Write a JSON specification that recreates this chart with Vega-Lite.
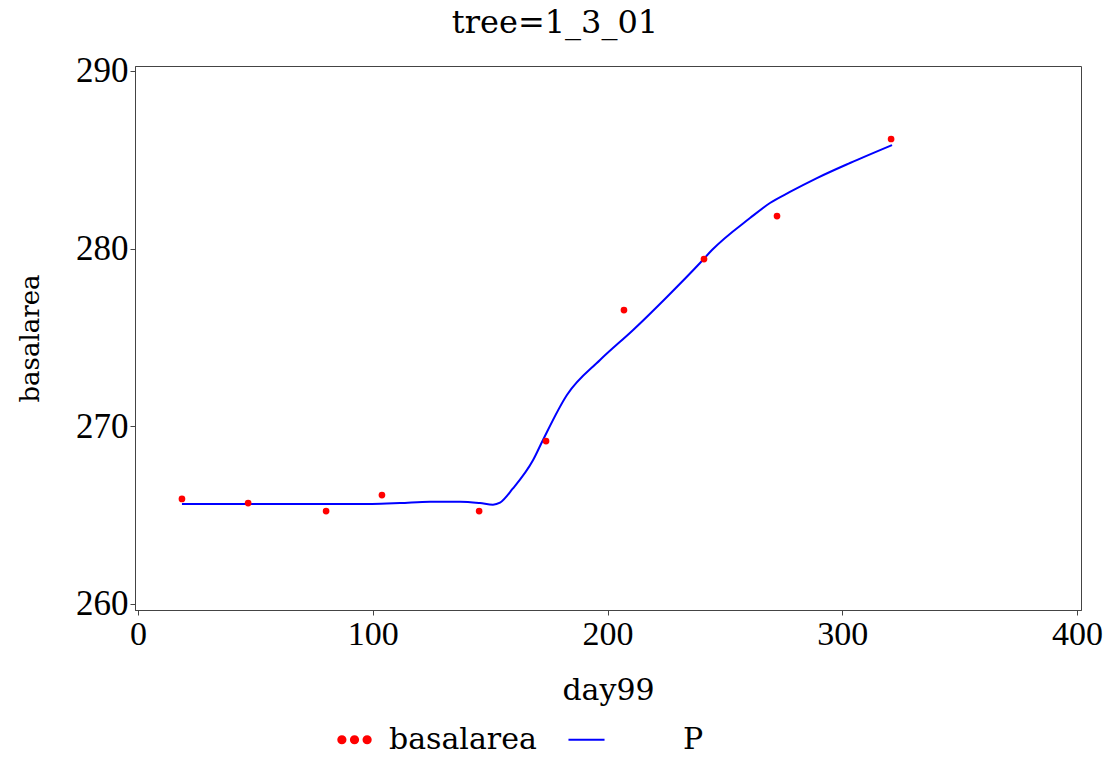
{
  "$schema": "https://vega.github.io/schema/vega-lite/v6.json",
  "autosize": {"type": "none"},
  "width": 946,
  "height": 544,
  "padding": {"left": 135, "top": 66, "right": 29, "bottom": 147},
  "background": "white",
  "title": {"text": "tree=1_3_01", "fontSize": 32, "font": "DejaVu Serif", "fontWeight": "normal", "color": "black", "anchor": "middle", "dx": -53, "offset": 14},
  "config": {
    "view": {"stroke": "#444444", "strokeWidth": 1},
    "axis": {"grid": false, "labelFont": "Liberation Serif", "titleFont": "DejaVu Serif", "labelFontSize": 35, "titleFontSize": 30, "titleFontWeight": "normal", "labelColor": "black", "titleColor": "black", "domainColor": "#444444", "tickColor": "#444444", "tickSize": 5, "labelPadding": 2},
    "legend": {"labelFont": "DejaVu Serif", "labelFontSize": 30, "labelColor": "black"}
  },
  "datasets": {
    "obs": [
      {"day99": 18.7, "basalarea": 265.91},
      {"day99": 46.9, "basalarea": 265.68},
      {"day99": 80.1, "basalarea": 265.23},
      {"day99": 103.9, "basalarea": 266.13},
      {"day99": 145.3, "basalarea": 265.23},
      {"day99": 173.8, "basalarea": 269.17},
      {"day99": 207.0, "basalarea": 276.54},
      {"day99": 241.1, "basalarea": 279.41},
      {"day99": 272.2, "basalarea": 281.83},
      {"day99": 320.8, "basalarea": 286.17}
    ],
    "pred": [
      {"day99": 18.7, "P": 265.63},
      {"day99": 99.7, "P": 265.63},
      {"day99": 111.6, "P": 265.68},
      {"day99": 124.4, "P": 265.76},
      {"day99": 137.2, "P": 265.76},
      {"day99": 145.7, "P": 265.68},
      {"day99": 151.2, "P": 265.59},
      {"day99": 154.2, "P": 265.7},
      {"day99": 159.7, "P": 266.5},
      {"day99": 168.3, "P": 268.1},
      {"day99": 172.5, "P": 269.23},
      {"day99": 182.7, "P": 271.76},
      {"day99": 196.8, "P": 273.73},
      {"day99": 210.9, "P": 275.42},
      {"day99": 225.3, "P": 277.28},
      {"day99": 239.4, "P": 279.19},
      {"day99": 244.5, "P": 279.92},
      {"day99": 260.7, "P": 281.72},
      {"day99": 269.2, "P": 282.57},
      {"day99": 277.7, "P": 283.19},
      {"day99": 289.2, "P": 283.97},
      {"day99": 303.3, "P": 284.82},
      {"day99": 321.2, "P": 285.83}
    ]
  },
  "layer": [
    {
      "data": {"name": "pred"},
      "mark": {"type": "line", "strokeWidth": 2, "interpolate": "monotone"},
      "encoding": {
        "x": {"field": "day99", "type": "quantitative", "scale": {"domain": [-1.3, 401.7], "nice": false, "zero": false}, "axis": {"values": [0, 100, 200, 300, 400], "title": "day99", "titlePadding": 24, "labelFontSize": 34}},
        "y": {"field": "P", "type": "quantitative", "scale": {"domain": [259.66, 290.28], "nice": false, "zero": false}, "axis": {"values": [260, 270, 280, 290], "title": "basalarea", "titlePadding": 32, "titleFontSize": 26}},
        "color": {"datum": "P", "type": "nominal", "scale": {"domain": ["basalarea", "P"], "range": ["#ff0000", "#0000ff"]},
          "legend": {"title": null, "orient": "none", "legendX": 200, "legendY": 654, "direction": "horizontal", "symbolSize": 1300, "columnPadding": 27, "labelOffset": 15,
            "encode": {
              "symbols": {"update": {
                "shape": {"signal": "datum.value == 'P' ? 'stroke' : 'M-0.9,0 a0.2,0.2 0 1,0 0.4,0 a0.2,0.2 0 1,0 -0.4,0 M-0.2,0 a0.2,0.2 0 1,0 0.4,0 a0.2,0.2 0 1,0 -0.4,0 M0.5,0 a0.2,0.2 0 1,0 0.4,0 a0.2,0.2 0 1,0 -0.4,0'"},
                "fill": {"signal": "datum.value == 'P' ? 'transparent' : '#ff0000'"},
                "stroke": {"signal": "datum.value == 'P' ? '#0000ff' : 'transparent'"},
                "strokeWidth": {"value": 2}
              }},
              "labels": {"update": {"dx": {"signal": "datum.value == 'P' ? 62 : 0"}}}
            }
          }
        }
      }
    },
    {
      "data": {"name": "obs"},
      "mark": {"type": "circle", "size": 45, "opacity": 1},
      "encoding": {
        "x": {"field": "day99", "type": "quantitative"},
        "y": {"field": "basalarea", "type": "quantitative"},
        "color": {"datum": "basalarea", "type": "nominal"}
      }
    }
  ]
}
